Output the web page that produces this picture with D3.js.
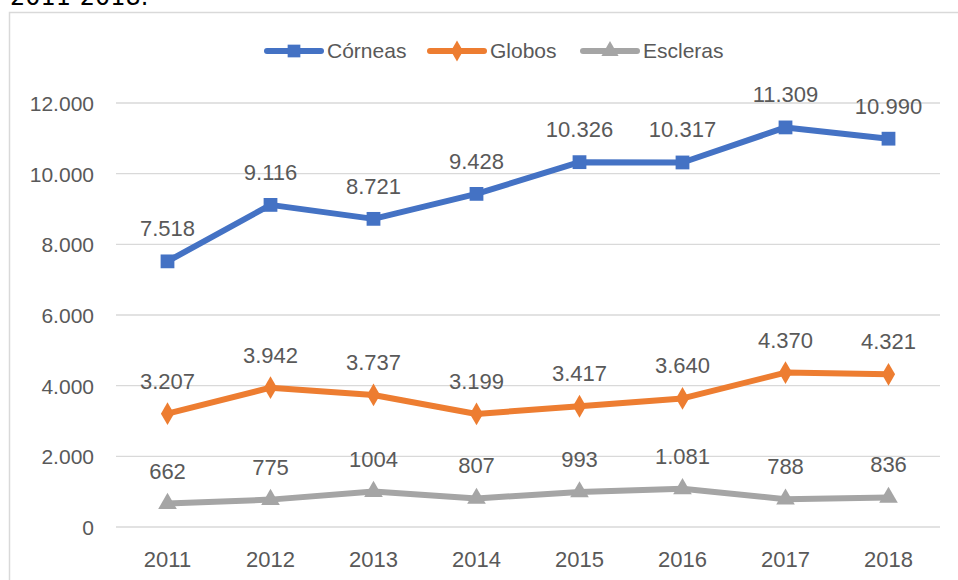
<!DOCTYPE html>
<html><head><meta charset="utf-8">
<script src="https://cdn.jsdelivr.net/npm/d3@7"></script>
<style>body{margin:0;background:#fff}svg{display:block}</style>
</head><body>
<script>
const years = ["2011","2012","2013","2014","2015","2016","2017","2018"];
const corneas = [7518,9116,8721,9428,10326,10317,11309,10990];
const globos = [3207,3942,3737,3199,3417,3640,4370,4321];
const escleras = [662,775,1004,807,993,1081,788,836];
const corneasLabels = ["7.518","9.116","8.721","9.428","10.326","10.317","11.309","10.990"];
const globosLabels = ["3.207","3.942","3.737","3.199","3.417","3.640","4.370","4.321"];
const esclerasLabels = ["662","775","1004","807","993","1.081","788","836"];
const yTicks = [0,2000,4000,6000,8000,10000,12000];
const yTickLabels = ["0","2.000","4.000","6.000","8.000","10.000","12.000"];
const seriesNames = ["Córneas","Globos","Escleras"];

const W=958,H=580;
const svg=d3.select("body").append("svg").attr("width",W).attr("height",H);
const font="'Liberation Sans', Arial, sans-serif";
const txt="#595959";

// partial title above the frame (cut off at the top, as in the source)
svg.append("text").attr("x",10).attr("y",5).attr("font-family","'DejaVu Sans', sans-serif")
  .attr("font-size",24).attr("fill","#000").text("2011-2018.");

// frame
svg.append("rect").attr("x",9.5).attr("y",12.5).attr("width",980).attr("height",600)
  .attr("fill","#fff").attr("stroke","#D9D9D9").attr("stroke-width",1.5);

const x=d3.scaleBand().domain(years).range([116,940]);
const y=d3.scaleLinear().domain([0,12000]).range([527,103]);
const cx=d=>x(d)+x.bandwidth()/2;

// grid
svg.append("g").selectAll("line").data(yTicks).join("line")
  .attr("x1",116).attr("x2",940).attr("y1",d=>y(d)).attr("y2",d=>y(d))
  .attr("stroke","#D9D9D9").attr("stroke-width",1.3);

// y axis labels
const yAxis=d3.axisLeft(y).tickValues(yTicks).tickFormat((d,i)=>yTickLabels[i]).tickSize(0).tickPadding(0);
const ya=svg.append("g").attr("transform","translate(94,0)").call(yAxis);
ya.select(".domain").remove();
ya.selectAll("text").attr("font-family",font).attr("font-size",21).attr("fill",txt).attr("dy","0.35em");

// x axis labels
const xAxis=d3.axisBottom(x).tickSize(0).tickPadding(0);
const xa=svg.append("g").attr("transform","translate(0,567)").call(xAxis);
xa.select(".domain").remove();
xa.selectAll("text").attr("font-family",font).attr("font-size",22).attr("fill",txt).attr("dy","0");

const series=[
  {name:seriesNames[0],vals:corneas,labels:corneasLabels,color:"#4472C4",shape:d3.symbolSquare,size:190},
  {name:seriesNames[1],vals:globos,labels:globosLabels,color:"#ED7D31",shape:d3.symbolDiamond,size:150},
  {name:seriesNames[2],vals:escleras,labels:esclerasLabels,color:"#A5A5A5",shape:d3.symbolTriangle,size:150}
];
const line=d3.line().x((d,i)=>cx(years[i])).y(d=>y(d));

series.forEach(s=>{
  svg.append("path").attr("d",line(s.vals)).attr("fill","none").attr("stroke",s.color)
    .attr("stroke-width",6).attr("stroke-linejoin","round").attr("stroke-linecap","round");
  svg.append("g").selectAll("path").data(s.vals).join("path")
    .attr("d",d3.symbol().type(s.shape).size(s.size))
    .attr("transform",(d,i)=>`translate(${cx(years[i])},${y(d)})`)
    .attr("fill",s.color);
  svg.append("g").selectAll("text").data(s.vals).join("text")
    .attr("x",(d,i)=>cx(years[i])).attr("y",d=>y(d)-25)
    .attr("text-anchor","middle").attr("font-family",font).attr("font-size",22).attr("fill",txt)
    .text((d,i)=>s.labels[i]);
});

// legend
const legX=[267,430,583];
series.forEach((s,i)=>{
  const g=svg.append("g").attr("transform",`translate(${legX[i]},51)`);
  g.append("line").attr("x1",0).attr("x2",54).attr("stroke",s.color).attr("stroke-width",6).attr("stroke-linecap","round");
  g.append("path").attr("d",d3.symbol().type(s.shape).size(s.size*0.85)).attr("transform","translate(27,0)").attr("fill",s.color);
  g.append("text").attr("x",60).attr("y",0).attr("dy","0.35em").attr("font-family",font).attr("font-size",21).attr("fill",txt).text(s.name);
});
</script>
</body></html>
